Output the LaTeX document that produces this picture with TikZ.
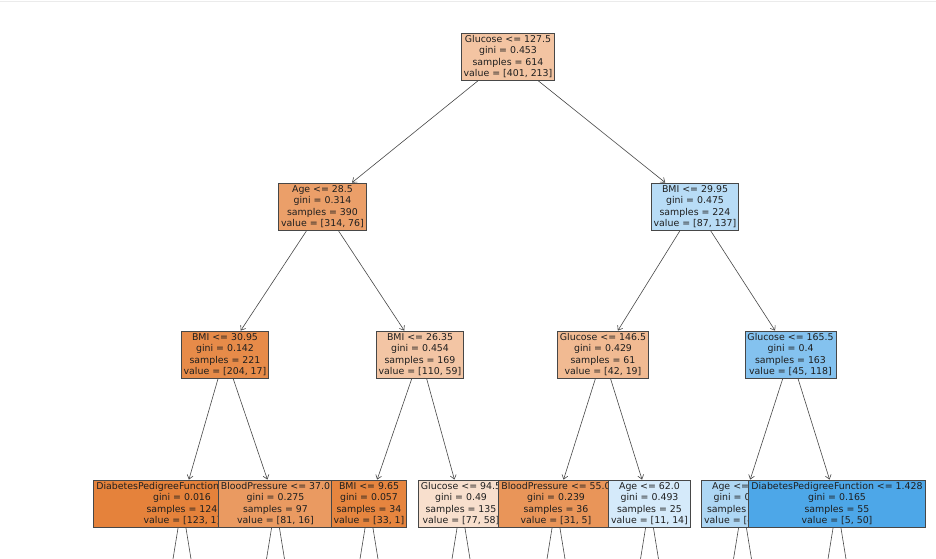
\documentclass[tikz,border=0pt]{standalone}
\usepackage{fontspec}
\setmainfont{DejaVu Sans}
\usetikzlibrary{arrows.meta}
\definecolor{clsA}{HTML}{E58139}
\definecolor{clsB}{HTML}{399DE5}
\begin{document}
\begin{tikzpicture}[x=1pt,y=-1pt,
  tn/.style={draw=black!72, line width=0.8pt, font=\fontsize{9.4}{11.4}\selectfont,
    align=center, inner xsep=2.5pt, inner ysep=1pt, minimum height=47pt, text=black!88},
  edge/.style={draw=black!72, line width=0.6pt, -{Straight Barb[length=4pt,width=6pt]}},
  stub/.style={draw=black!72, line width=0.6pt}]
\useasboundingbox (0,0) rectangle (936,558);
\clip (0,0) rectangle (936,558);
\fill[white] (0,0) rectangle (936,558);
\draw[black!8, line width=1pt] (0,1.5) -- (936,1.5);

% level 1
\node[tn, fill=clsA!47!white] (n0) at (508,56.5) {Glucose <= 127.5\\gini = 0.453\\samples = 614\\value = [401, 213]};
% level 2 / 3 / 4 in pre-order
\node[tn, fill=clsA!76!white] (n1) at (322.5,206.5) {Age <= 28.5\\gini = 0.314\\samples = 390\\value = [314, 76]};
\node[tn, fill=clsA!92!white] (n2) at (225,354.5) {BMI <= 30.95\\gini = 0.142\\samples = 221\\value = [204, 17]};
\node[tn, fill=clsA!99!white] (n3) at (182,503.5) {DiabetesPedigreeFunction <= 0.501\\gini = 0.016\\samples = 124\\value = [123, 1]};
\node[tn, fill=clsA!80!white] (n4) at (275.5,503.5) {BloodPressure <= 37.0\\gini = 0.275\\samples = 97\\value = [81, 16]};
\node[tn, fill=clsA!46!white] (n5) at (420,354.5) {BMI <= 26.35\\gini = 0.454\\samples = 169\\value = [110, 59]};
\node[tn, fill=clsA!97!white] (n6) at (369,503.5) {BMI <= 9.65\\gini = 0.057\\samples = 34\\value = [33, 1]};
\node[tn, fill=clsA!25!white] (n7) at (461,503.5) {Glucose <= 94.5\\gini = 0.49\\samples = 135\\value = [77, 58]};
\node[tn, fill=clsB!36!white] (n8) at (695,206.5) {BMI <= 29.95\\gini = 0.475\\samples = 224\\value = [87, 137]};
\node[tn, fill=clsA!55!white] (n9) at (603,354.5) {Glucose <= 146.5\\gini = 0.429\\samples = 61\\value = [42, 19]};
\node[tn, fill=clsA!84!white] (n10) at (556,503.5) {BloodPressure <= 55.0\\gini = 0.239\\samples = 36\\value = [31, 5]};
\node[tn, fill=clsB!21!white] (n11) at (649.5,503.5) {Age <= 62.0\\gini = 0.493\\samples = 25\\value = [11, 14]};
\node[tn, fill=clsB!62!white] (n12) at (790.5,354.5) {Glucose <= 165.5\\gini = 0.4\\samples = 163\\value = [45, 118]};
\node[tn, fill=clsB!41!white] (n13) at (742.5,503.5) {Age <= 30.5\\gini = 0.466\\samples = 108\\value = [40, 68]};
\node[tn, fill=clsB!90!white] (n14) at (837,503.5) {DiabetesPedigreeFunction <= 1.428\\gini = 0.165\\samples = 55\\value = [5, 50]};

% off-picture children (free ends)
\foreach \n/\x in {n3/182, n4/275.5, n6/369, n7/461, n10/556, n11/649.5, n13/742.5, n14/837}{
  \coordinate (\n a) at ({\x-24},651.5);
  \coordinate (\n b) at ({\x+24},651.5);
}

% connectors
\draw[edge] (n0) -- (n1);
\draw[edge] (n0) -- (n8);
\draw[edge] (n1) -- (n2);
\draw[edge] (n1) -- (n5);
\draw[edge] (n8) -- (n9);
\draw[edge] (n8) -- (n12);
\draw[edge] (n2) -- (n3);
\draw[edge] (n2) -- (n4);
\draw[edge] (n5) -- (n6);
\draw[edge] (n5) -- (n7);
\draw[edge] (n9) -- (n10);
\draw[edge] (n9) -- (n11);
\draw[edge] (n12) -- (n13);
\draw[edge] (n12) -- (n14);
\foreach \n in {n3,n4,n6,n7,n10,n11,n13,n14}{
  \draw[stub] (\n) -- (\n a);
  \draw[stub] (\n) -- (\n b);
}
\end{tikzpicture}
\end{document}
